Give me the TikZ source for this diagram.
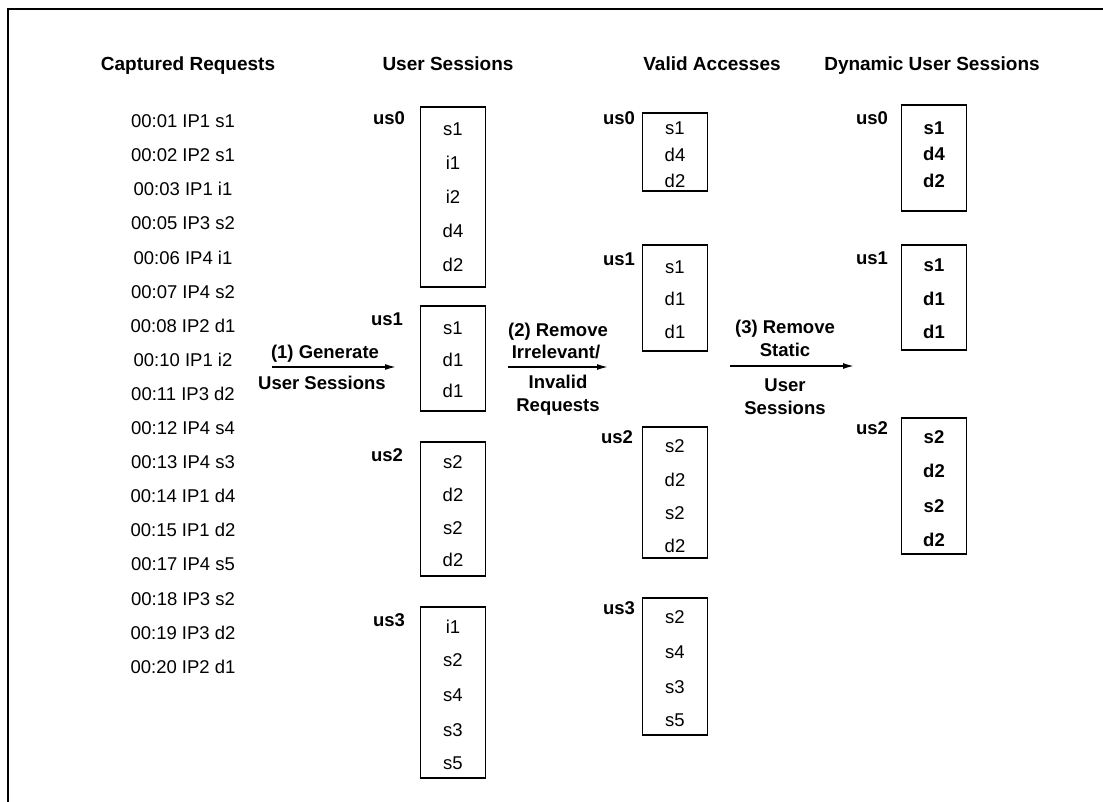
\documentclass[tikz,border=0pt]{standalone}
\usepackage{fontspec}
\setmainfont{Liberation Sans}
\usetikzlibrary{arrows.meta}
\begin{document}
\begin{tikzpicture}[x=1pt,y=-1pt,
  base/.style={inner sep=0pt, outer sep=0pt, text height=13.3pt, text depth=0pt},
  hdr/.style={base, font=\fontsize{19}{22}\selectfont\bfseries},
  req/.style={base, font=\fontsize{18.5}{22}\selectfont},
  lab/.style={base, font=\fontsize{18.5}{22}\selectfont\bfseries},
  itm/.style={base, font=\fontsize{18.5}{22}\selectfont},
  bitm/.style={base, font=\fontsize{18.5}{22}\selectfont\bfseries},
  sbox/.style={draw, line width=1.5pt, inner sep=0pt, outer sep=0pt, minimum width=65pt},
  flow/.style={line width=1.5pt, -{Latex[length=11pt,width=6pt]}},
  frame/.style={line width=1.6pt}
]
\useasboundingbox (0,0) rectangle (1103,802);
% outer frame (left and top edges only visible)
\coordinate (fl) at (8,802);
\coordinate (fc) at (8,9);
\coordinate (fr) at (1103,9);
\draw[frame] (fl) -- (fc) -- (fr);

% headers
\node[hdr] (h1) at (188,64) {Captured Requests};
\node[hdr] (h2) at (448,64) {User Sessions};
\node[hdr] (h3) at (712,64) {Valid Accesses};
\node[hdr] (h4) at (932,64) {Dynamic User Sessions};

% captured requests
\foreach \t [count=\i from 0] in {00:01 IP1 s1,00:02 IP2 s1,00:03 IP1 i1,00:05 IP3 s2,00:06 IP4 i1,00:07 IP4 s2,00:08 IP2 d1,00:10 IP1 i2,00:11 IP3 d2,00:12 IP4 s4,00:13 IP4 s3,00:14 IP1 d4,00:15 IP1 d2,00:17 IP4 s5,00:18 IP3 s2,00:19 IP3 d2,00:20 IP2 d1}
  \node[req] (r\i) at (183,{121+34.1*\i}) {\t};

% ---------- User Sessions ----------
\node[sbox, minimum height=180pt] (ua0) at (453,197) {};
\node[lab] (lua0) at (389,118) {us0};
\foreach \t/\y [count=\i] in {s1/129,i1/163,i2/197,d4/231,d2/265}
  \node[itm] (ua0i\i) at (453,\y) {\t};

\node[sbox, minimum height=105pt] (ua1) at (453,358.5) {};
\node[lab] (lua1) at (387,319) {us1};
\foreach \t/\y [count=\i] in {s1/328,d1/360,d1/391}
  \node[itm] (ua1i\i) at (453,\y) {\t};

\node[sbox, minimum height=134pt] (ua2) at (453,509) {};
\node[lab] (lua2) at (387,455) {us2};
\foreach \t/\y [count=\i] in {s2/462,d2/495,s2/528,d2/560}
  \node[itm] (ua2i\i) at (453,\y) {\t};

\node[sbox, minimum height=171pt] (ua3) at (453,692.5) {};
\node[lab] (lua3) at (389,620) {us3};
\foreach \t/\y [count=\i] in {i1/627,s2/660,s4/695,s3/730,s5/763}
  \node[itm] (ua3i\i) at (453,\y) {\t};

% ---------- Valid Accesses ----------
\node[sbox, minimum height=78pt] (va0) at (675,152) {};
\node[lab] (lva0) at (619,118) {us0};
\foreach \t/\y [count=\i] in {s1/128,d4/155,d2/181}
  \node[itm] (va0i\i) at (675,\y) {\t};

\node[sbox, minimum height=106pt] (va1) at (675,298) {};
\node[lab] (lva1) at (619,259) {us1};
\foreach \t/\y [count=\i] in {s1/267,d1/299,d1/332}
  \node[itm] (va1i\i) at (675,\y) {\t};

\node[sbox, minimum height=131pt] (va2) at (675,492.5) {};
\node[lab] (lva2) at (617,437) {us2};
\foreach \t/\y [count=\i] in {s2/446,d2/480,s2/513,d2/546}
  \node[itm] (va2i\i) at (675,\y) {\t};

\node[sbox, minimum height=137pt] (va3) at (675,666.5) {};
\node[lab] (lva3) at (619,608) {us3};
\foreach \t/\y [count=\i] in {s2/617,s4/652,s3/687,s5/720}
  \node[itm] (va3i\i) at (675,\y) {\t};

% ---------- Dynamic User Sessions ----------
\node[sbox, minimum height=106pt] (da0) at (934,158) {};
\node[lab] (lda0) at (872,118) {us0};
\foreach \t/\y [count=\i] in {s1/128,d4/154,d2/181}
  \node[bitm] (da0i\i) at (934,\y) {\t};

\node[sbox, minimum height=105pt] (da1) at (934,297.5) {};
\node[lab] (lda1) at (872,258) {us1};
\foreach \t/\y [count=\i] in {s1/265,d1/299,d1/332}
  \node[bitm] (da1i\i) at (934,\y) {\t};

\node[sbox, minimum height=136pt] (da2) at (934,486) {};
\node[lab] (lda2) at (872,428) {us2};
\foreach \t/\y [count=\i] in {s2/437,d2/471,s2/506,d2/540}
  \node[bitm] (da2i\i) at (934,\y) {\t};

% ---------- arrows ----------
\coordinate (a1s) at (272,367);
\coordinate (a1e) at (396,367);
\draw[flow] (a1s) -- (a1e);
\node[lab] (a1t1) at (325,352) {(1) Generate};
\node[lab] (a1t2) at (322,383) {User Sessions};

\coordinate (a2s) at (508,367);
\coordinate (a2e) at (608,367);
\draw[flow] (a2s) -- (a2e);
\node[lab] (a2t1) at (558,330) {(2) Remove};
\node[lab] (a2t2) at (556,352) {Irrelevant/};
\node[lab] (a2t3) at (558,382) {Invalid};
\node[lab] (a2t4) at (558,405) {Requests};

\coordinate (a3s) at (730,366);
\coordinate (a3e) at (854,366);
\draw[flow] (a3s) -- (a3e);
\node[lab] (a3t1) at (785,327) {(3) Remove};
\node[lab] (a3t2) at (785,350) {Static};
\node[lab] (a3t3) at (785,385) {User};
\node[lab] (a3t4) at (785,408) {Sessions};
\end{tikzpicture}
\end{document}
